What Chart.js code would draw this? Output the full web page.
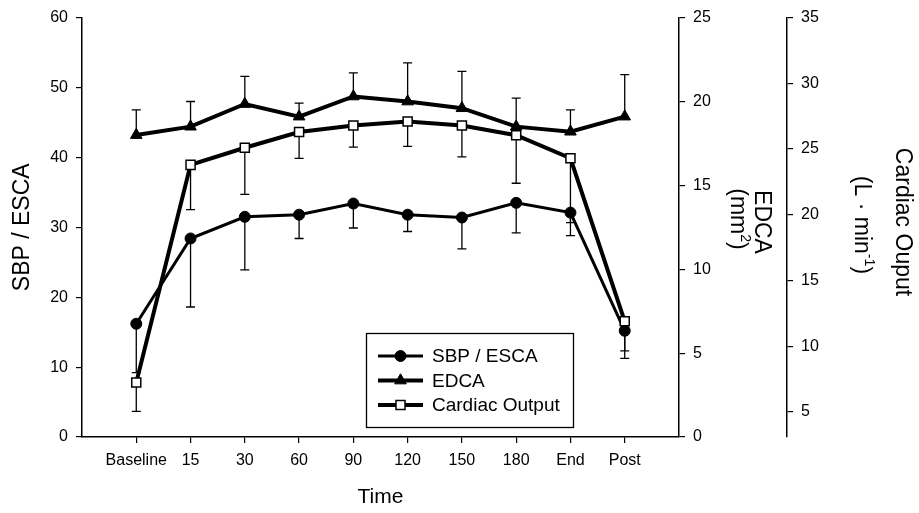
<!DOCTYPE html>
<html>
<head>
<meta charset="utf-8">
<script src="https://cdn.jsdelivr.net/npm/chart.js@4.4.0/dist/chart.umd.min.js"></script>
<style>
  html, body { margin: 0; padding: 0; background: #fff; }
</style>
</head>
<body>
<canvas id="chart" width="919" height="513"></canvas>
<script>
// --- Data ---
const TIME_LABELS = ['Baseline', '15', '30', '60', '90', '120', '150', '180', 'End', 'Post'];

// SBP / ESCA (left axis), error bars drawn downward
const SBP = [16.2, 28.4, 31.5, 31.8, 33.4, 31.8, 31.4, 33.5, 32.1, 15.2];
const SBP_SD = [7.0, 9.8, 7.6, 3.4, 3.5, 2.4, 4.5, 4.3, 3.3, 3.95];

// EDCA in mm2 (first right axis), error bars drawn upward
const EDCA = [18.0, 18.5, 19.85, 19.1, 20.3, 20.0, 19.6, 18.5, 18.2, 19.1];
const EDCA_SD = [1.5, 1.5, 1.65, 0.8, 1.4, 2.3, 2.2, 1.7, 1.3, 2.5];

// Cardiac output in L/min (second right axis), error bars drawn downward
const CO = [7.25, 23.8, 25.1, 26.3, 26.8, 27.1, 26.8, 26.05, 24.3, 11.9];
const CO_SD = [2.2, 3.4, 3.55, 2.0, 1.65, 1.9, 2.4, 3.65, 4.9, 2.25];

const CO_TICKS = [5, 10, 15, 20, 25, 30, 35];

Chart.defaults.font.family = "'Liberation Sans', Arial, sans-serif";
Chart.defaults.color = '#000';

const toPoints = arr => arr.map((v, i) => ({ x: i + 1, y: v }));

// vertical error bars with a small cap, drawn under the markers
const errorBars = {
    id: 'errorBars',
    beforeDatasetsDraw(chart) {
        const ctx = chart.ctx;
        ctx.save();
        ctx.strokeStyle = '#000';
        ctx.lineWidth = 1.3;
        chart.data.datasets.forEach((ds, di) => {
            const meta = chart.getDatasetMeta(di);
            const scale = chart.scales[ds.yAxisID];
            meta.data.forEach((pt, i) => {
                const end = scale.getPixelForValue(ds.data[i].y + ds.errDir * ds.errors[i]);
                ctx.beginPath();
                ctx.moveTo(pt.x, pt.y);
                ctx.lineTo(pt.x, end);
                ctx.moveTo(pt.x - 4.5, end);
                ctx.lineTo(pt.x + 4.5, end);
                ctx.stroke();
            });
        });
        ctx.restore();
    }
};

// boxed legend sitting inside the plot, line + marker samples
const boxLegend = {
    id: 'boxLegend',
    afterDraw(chart) {
        const ctx = chart.ctx;
        ctx.save();
        ctx.strokeStyle = '#000';
        ctx.lineWidth = 1.3;
        ctx.strokeRect(366.5, 333.5, 207, 94);
        const rows = [356, 380.5, 405];
        const order = [0, 1, 2];
        order.forEach((di, r) => {
            const ds = chart.data.datasets[di];
            const y = rows[r];
            ctx.strokeStyle = '#000';
            ctx.lineWidth = ds.borderWidth;
            ctx.beginPath();
            ctx.moveTo(378, y);
            ctx.lineTo(423, y);
            ctx.stroke();
            ctx.fillStyle = ds.pointBackgroundColor;
            ctx.strokeStyle = ds.pointBorderColor;
            ctx.lineWidth = ds.pointBorderWidth;
            Chart.helpers.drawPoint(ctx, {
                pointStyle: ds.pointStyle,
                radius: ds.pointRadius,
                rotation: 0,
                borderWidth: ds.pointBorderWidth
            }, 400.5, y);
            ctx.fillStyle = '#000';
            ctx.font = "19px 'Liberation Sans', Arial, sans-serif";
            ctx.textAlign = 'left';
            ctx.textBaseline = 'middle';
            ctx.fillText(ds.label, 432, y + 1);
        });
        ctx.restore();
    }
};

// rotated (top-to-bottom) titles for the two right axes, with superscripts
function drawRotatedLine(ctx, baseX, centerY, parts, size) {
    ctx.save();
    ctx.translate(baseX, centerY);
    ctx.rotate(Math.PI / 2);
    ctx.fillStyle = '#000';
    ctx.textBaseline = 'alphabetic';
    ctx.textAlign = 'left';
    let total = 0;
    parts.forEach(p => {
        ctx.font = (p.sup ? size * 0.62 : size) + "px 'Liberation Sans', Arial, sans-serif";
        total += ctx.measureText(p.t).width;
    });
    let x = -total / 2;
    parts.forEach(p => {
        ctx.font = (p.sup ? size * 0.62 : size) + "px 'Liberation Sans', Arial, sans-serif";
        ctx.fillText(p.t, x, p.sup ? -size * 0.45 : 0);
        x += ctx.measureText(p.t).width;
    });
    ctx.restore();
}

const sideTitles = {
    id: 'sideTitles',
    afterDraw(chart) {
        const ctx = chart.ctx;
        drawRotatedLine(ctx, 755, 222, [{ t: 'EDCA' }], 23);
        drawRotatedLine(ctx, 731, 219, [{ t: '(mm' }, { t: '2', sup: true }, { t: ')' }], 23);
        drawRotatedLine(ctx, 896, 222, [{ t: 'Cardiac Ouput' }], 23);
        drawRotatedLine(ctx, 855, 225, [{ t: '(L \u00B7 min' }, { t: '-1', sup: true }, { t: ')' }], 23);
    }
};

const tickFont = { size: 16 };

new Chart(document.getElementById('chart').getContext('2d'), {
    type: 'line',
    data: {
        datasets: [{
            label: 'SBP / ESCA',
            data: toPoints(SBP),
            errors: SBP_SD,
            errDir: -1,
            yAxisID: 'y',
            order: 1,
            borderColor: '#000',
            borderWidth: 3,
            pointStyle: 'circle',
            pointRadius: 5.5,
            pointBackgroundColor: '#000',
            pointBorderColor: '#000',
            pointBorderWidth: 1
        }, {
            label: 'EDCA',
            data: toPoints(EDCA),
            errors: EDCA_SD,
            errDir: 1,
            yAxisID: 'edca',
            order: 2,
            borderColor: '#000',
            borderWidth: 4,
            pointStyle: 'triangle',
            pointRadius: 6.7,
            pointBackgroundColor: '#000',
            pointBorderColor: '#000',
            pointBorderWidth: 1
        }, {
            label: 'Cardiac Output',
            data: toPoints(CO),
            errors: CO_SD,
            errDir: -1,
            yAxisID: 'co',
            order: 0,
            borderColor: '#000',
            borderWidth: 4,
            pointStyle: 'rect',
            pointRadius: 6.4,
            pointBackgroundColor: '#fff',
            pointBorderColor: '#000',
            pointBorderWidth: 1.5
        }]
    },
    options: {
        responsive: false,
        animation: false,
        devicePixelRatio: 1,
        layout: { padding: { top: 17, left: 0, right: 0, bottom: 0 } },
        plugins: {
            legend: { display: false },
            tooltip: { enabled: false }
        },
        scales: {
            x: {
                type: 'linear',
                position: 'bottom',
                min: 0,
                max: 11,
                afterBuildTicks: s => { s.ticks = TIME_LABELS.map((l, i) => ({ value: i + 1 })); },
                afterFit: s => { s.height = 76; },
                ticks: {
                    callback: v => TIME_LABELS[v - 1] || '',
                    font: tickFont,
                    padding: 8,
                    maxRotation: 0,
                    autoSkip: false
                },
                grid: { drawOnChartArea: false, tickLength: 6, color: '#000', lineWidth: 1.2 },
                border: { color: '#000', width: 1.5 },
                title: { display: true, text: 'Time', font: { size: 21 }, padding: { top: 0, bottom: 3 } }
            },
            y: {
                position: 'left',
                min: 0,
                max: 60,
                afterFit: s => { s.width = 82; },
                ticks: { stepSize: 10, font: tickFont, padding: 8 },
                grid: { drawOnChartArea: false, tickLength: 6, color: '#000', lineWidth: 1.2 },
                border: { color: '#000', width: 1.5 },
                title: { display: true, text: 'SBP / ESCA', font: { size: 23 }, padding: { top: 9, bottom: 0 } }
            },
            edca: {
                position: 'right',
                weight: 0,
                min: 0,
                max: 25,
                afterFit: s => { s.width = 108; },
                ticks: { stepSize: 5, font: tickFont, padding: 8 },
                grid: { drawOnChartArea: false, tickLength: 6, color: '#000', lineWidth: 1.2 },
                border: { color: '#000', width: 1.5 }
            },
            co: {
                position: 'right',
                weight: 1,
                min: 3.1,
                max: 35,
                afterBuildTicks: s => { s.ticks = CO_TICKS.map(v => ({ value: v })); },
                afterFit: s => { s.width = 132; },
                ticks: { font: tickFont, padding: 8 },
                grid: { drawOnChartArea: false, tickLength: 6, color: '#000', lineWidth: 1.2 },
                border: { color: '#000', width: 1.5 }
            }
        }
    },
    plugins: [errorBars, boxLegend, sideTitles]
});
</script>
</body>
</html>
